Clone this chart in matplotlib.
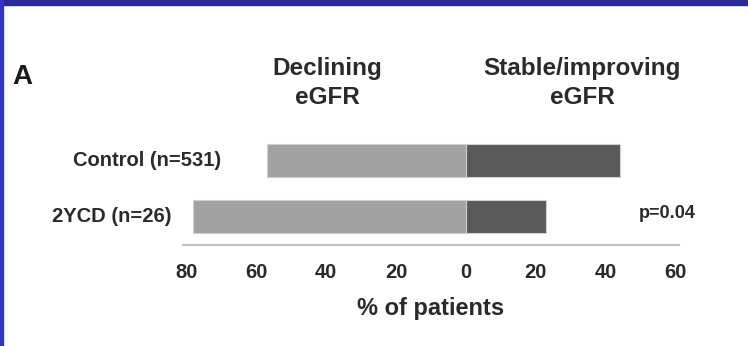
import matplotlib
matplotlib.use("Agg")
import matplotlib.pyplot as plt
from matplotlib.patches import Rectangle

plt.rcParams['font.family'] = ['Liberation Sans', 'DejaVu Sans']

groups = ['Control (n=531)', '2YCD (n=26)']
declining = [57, 78]      # % of patients, drawn to the left
stable = [44, 23]         # % of patients, drawn to the right
ticks = [-80, -60, -40, -20, 0, 20, 40, 60]
tick_labels = ['80', '60', '40', '20', '0', '20', '40', '60']

W, H = 748, 346
fig = plt.figure(figsize=(W / 100, H / 100), dpi=100)

def fx(px):
    return px / W

def fy(py):
    return 1 - py / H

# navy frame along top and left edges
fig.patches.append(Rectangle((0, fy(5)), 1, 5 / H, transform=fig.transFigure,
                             color='#2a2a9a', zorder=0))
fig.patches.append(Rectangle((0, 0), 3 / W, 1, transform=fig.transFigure,
                             color='#3434bd', zorder=0))

ax = fig.add_axes([fx(183), fy(245), fx(679) - fx(183), (245 - 130) / H])

ypos = [1, 0]
ax.barh(ypos, [-d for d in declining], height=0.59, color='#a2a2a2',
        edgecolor='#d0d0d0', linewidth=0.8)
ax.barh(ypos, stable, height=0.59, color='#595959',
        edgecolor='#d0d0d0', linewidth=0.8)

ax.set_xlim(-80.9, 60.9)
ax.set_ylim(-0.509, 1.545)
for s in ['top', 'right', 'left']:
    ax.spines[s].set_visible(False)
ax.spines['bottom'].set_color('#c4c4c4')
ax.spines['bottom'].set_linewidth(1.6)
ax.set_yticks([])
ax.set_xticks(ticks)
ax.set_xticklabels(tick_labels, fontsize=14.5, fontweight='bold', color='#2a2a2a')
ax.tick_params(axis='x', length=0, pad=13)
ax.set_xlabel('% of patients', fontsize=17, fontweight='bold', color='#2a2a2a',
              labelpad=11)

# row labels and significance
fig.text(fx(221), fy(160), groups[0], ha='right', va='center', fontsize=14.5,
         fontweight='bold', color='#2a2a2a')
fig.text(fx(172), fy(216), groups[1], ha='right', va='center', fontsize=14.5,
         fontweight='bold', color='#2a2a2a')
fig.text(fx(639), fy(214), 'p=0.04', ha='left', va='center', fontsize=13,
         fontweight='bold', color='#2a2a2a')

# column headers
fig.text(fx(327), fy(83), 'Declining\neGFR', ha='center', va='center',
         fontsize=17.5, fontweight='bold', color='#2a2a2a', linespacing=1.36)
fig.text(fx(582), fy(83), 'Stable/improving\neGFR', ha='center', va='center',
         fontsize=17.5, fontweight='bold', color='#2a2a2a', linespacing=1.36)

fig.text(fx(12), fy(77), 'A', ha='left', va='center', fontsize=20,
         fontweight='bold', color='#1a1a1a')

fig.savefig('out.png', dpi=100, facecolor='white')
